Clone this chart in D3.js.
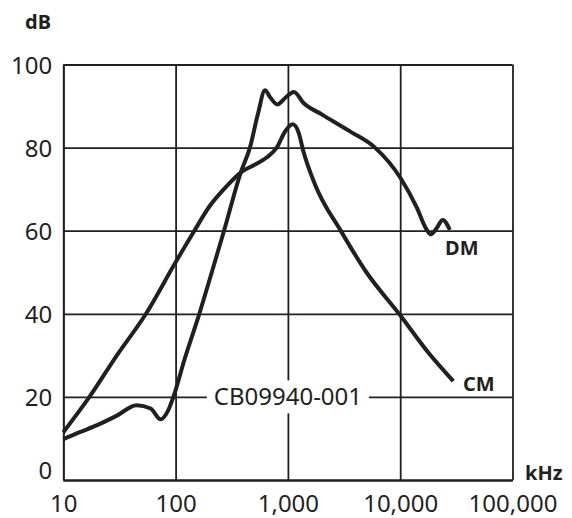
<!DOCTYPE html>
<html>
<head>
<meta charset="utf-8">
<script src="https://cdn.jsdelivr.net/npm/d3@7"></script>
<style>
  body { margin: 0; background: #fff; }
  svg text { font-family: "Noto Sans", sans-serif; fill: #231f20; }
</style>
</head>
<body>
<div id="chart"></div>
<script>
// tick values
const xTicks = [10, 100, 1000, 10000, 100000];
const yTicks = [0, 20, 40, 60, 80, 100];

// DM curve (kHz, dB)
const dmFreq = [10, 14, 20, 30, 45, 60, 73.6, 85, 95.6, 120, 162.6, 210, 270, 380, 459, 540, 625, 700, 805, 950, 1132, 1371, 2000, 3573, 5970, 10000, 14030, 17000, 18700, 21000, 23900, 27700];
const dmDb   = [9.8, 11.5, 13.2, 15.5, 18, 17.2, 14.6, 16.5, 20, 29, 40, 50, 60, 74, 80, 88, 93.8, 92, 90.4, 92, 93.4, 90.8, 88, 83.9, 80, 72.8, 65.6, 60.5, 59.1, 60.5, 62.6, 60.2];

// CM curve (kHz, dB)
const cmFreq = [10, 17.1, 30, 54.5, 100, 147, 202, 280, 380, 500, 647, 795, 950, 1104, 1250, 1371, 1740, 2970, 5000, 9770, 18000, 29700];
const cmDb   = [11.5, 20, 30, 40, 52.4, 60, 66, 70.5, 74, 75.8, 77.6, 80, 84, 85.6, 83.5, 79.2, 71.2, 59.9, 50, 40, 30.5, 23.8];

const width = 572, height = 518;
const margin = {top: 64.5, right: 59.5, bottom: 38, left: 63.3};
const ink = "#231f20";

const svg = d3.select("#chart")
    .append("svg")
    .attr("width", width)
    .attr("height", height);

const xScale = d3.scaleLog()
    .domain([10, 100000])
    .range([margin.left, width - margin.right]);
const yScale = d3.scaleLinear()
    .domain([0, 100])
    .range([height - margin.bottom, margin.top]);

const innerW = xScale.range()[1] - xScale.range()[0];
const innerH = yScale.range()[0] - yScale.range()[1];

// grid + axes
const xAxis = svg.append("g")
    .attr("transform", `translate(0,${yScale(0)})`)
    .call(d3.axisBottom(xScale)
        .tickValues(xTicks)
        .tickSize(-innerH)
        .tickSizeOuter(0)
        .tickPadding(32)
        .tickFormat(d3.format(",")));

const yAxis = svg.append("g")
    .attr("transform", `translate(${xScale(10)},0)`)
    .call(d3.axisLeft(yScale)
        .tickValues(yTicks)
        .tickSize(-innerW)
        .tickSizeOuter(0)
        .tickPadding(11));

svg.selectAll(".domain, .tick line")
    .attr("stroke", ink)
    .attr("stroke-width", 1.8);

svg.selectAll(".tick text")
    .style("font-size", "24px")
    .attr("fill", ink);

xAxis.selectAll(".tick text").attr("dy", "0");
yAxis.selectAll(".tick text")
    .attr("dy", d => d === 0 ? "-0.05em" : "0.36em");

// watermark label over grid
const labelX = xScale(1000), labelY = yScale(20);
svg.append("rect")
    .attr("x", labelX - 81)
    .attr("y", labelY - 16.5)
    .attr("width", 162)
    .attr("height", 33)
    .attr("fill", "#fff");
svg.append("text")
    .attr("x", labelX)
    .attr("y", labelY)
    .attr("dy", "0.35em")
    .attr("text-anchor", "middle")
    .style("font-size", "24px")
    .text("CB09940-001");

// curves
const lineGen = d3.line()
    .x(d => xScale(d[0]))
    .y(d => yScale(d[1]))
    .curve(d3.curveMonotoneX);

svg.append("path")
    .datum(d3.zip(dmFreq, dmDb))
    .attr("d", lineGen)
    .attr("fill", "none")
    .attr("stroke", ink)
    .attr("stroke-width", 4);

svg.append("path")
    .datum(d3.zip(cmFreq, cmDb))
    .attr("d", lineGen)
    .attr("fill", "none")
    .attr("stroke", ink)
    .attr("stroke-width", 4);

// bold labels
const bold = (x, y, t, anchor) => svg.append("text")
    .attr("x", x).attr("y", y)
    .attr("text-anchor", anchor || "start")
    .style("font-size", "20px")
    .style("font-weight", "bold")
    .text(t);

bold(25, 29, "dB");
bold(525, 480, "kHz");
bold(445, 255, "DM");
bold(463, 391, "CM");
</script>
</body>
</html>
